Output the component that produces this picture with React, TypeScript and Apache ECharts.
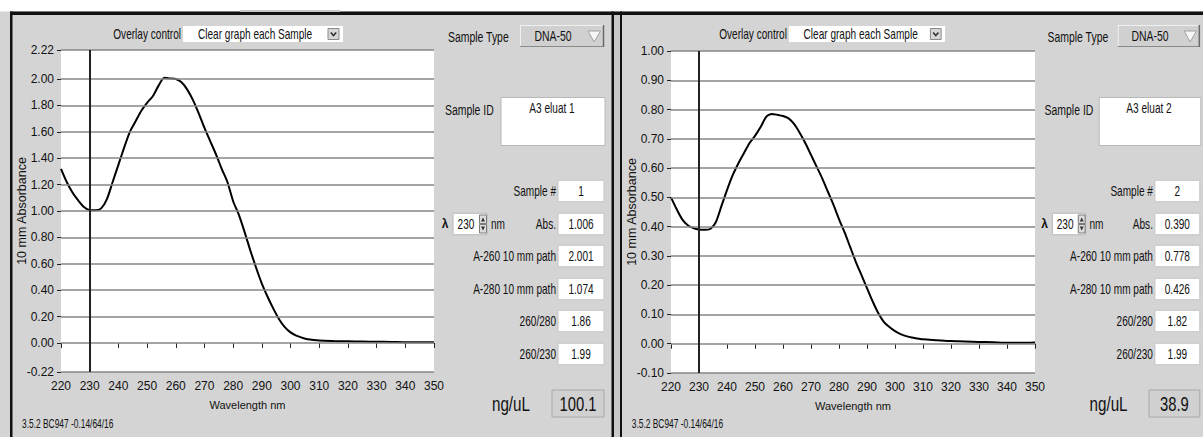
import React, { useEffect, useRef } from "react";
import * as echarts from "echarts";

// ---------- data ----------
const wavelengths1 = [220, 222, 224, 226, 228, 230, 232, 234, 236, 238, 240, 242, 244, 246, 248, 250, 252, 254, 256, 258, 260, 262, 264, 266, 268, 270, 272, 274, 276, 278, 280, 282, 284, 286, 288, 290, 292, 294, 296, 298, 300, 302, 304, 306, 308, 310, 315, 320, 325, 330, 335, 340, 345, 350];
const absorbance1 = [1.32, 1.22, 1.14, 1.08, 1.03, 1.006, 1.005, 1.02, 1.09, 1.22, 1.35, 1.48, 1.6, 1.68, 1.76, 1.82, 1.87, 1.95, 2.01, 2.005, 2.0, 1.975, 1.92, 1.84, 1.74, 1.63, 1.53, 1.43, 1.32, 1.22, 1.074, 0.97, 0.84, 0.7, 0.57, 0.45, 0.35, 0.26, 0.18, 0.12, 0.08, 0.055, 0.04, 0.028, 0.022, 0.018, 0.015, 0.013, 0.011, 0.009, 0.008, 0.006, 0.006, 0.006];
const wavelengths2 = [220, 222, 224, 226, 228, 230, 232, 234, 236, 238, 240, 242, 244, 246, 248, 250, 252, 254, 256, 258, 260, 262, 264, 266, 268, 270, 272, 274, 276, 278, 280, 282, 284, 286, 288, 290, 292, 294, 296, 298, 300, 302, 304, 306, 308, 310, 315, 320, 325, 330, 335, 340, 345, 350];
const absorbance2 = [0.5, 0.46, 0.425, 0.405, 0.395, 0.39, 0.389, 0.392, 0.415, 0.47, 0.525, 0.575, 0.615, 0.65, 0.685, 0.71, 0.74, 0.775, 0.785, 0.782, 0.778, 0.77, 0.75, 0.72, 0.685, 0.645, 0.605, 0.565, 0.52, 0.475, 0.426, 0.38, 0.33, 0.28, 0.235, 0.19, 0.145, 0.105, 0.075, 0.057, 0.043, 0.033, 0.026, 0.021, 0.018, 0.015, 0.012, 0.009, 0.008, 0.006, 0.005, 0.003, 0.003, 0.004];

const yTicks1 = [-0.22, 0, 0.2, 0.4, 0.6, 0.8, 1.0, 1.2, 1.4, 1.6, 1.8, 2.0, 2.22];
const yTicks2 = [-0.1, 0, 0.1, 0.2, 0.3, 0.4, 0.5, 0.6, 0.7, 0.8, 0.9, 1.0];
const cursorWavelength = 230;

const sampleIds = ["A3 eluat 1", "A3 eluat 2"];
const sampleNums = ["1", "2"];
const absAtLambda = ["1.006", "0.390"];
const a260 = ["2.001", "0.778"];
const a280 = ["1.074", "0.426"];
const ratio260280 = ["1.86", "1.82"];
const ratio260230 = ["1.99", "1.99"];
const concentration = ["100.1", "38.9"];
const rowLabels = ["Sample #", "Abs.", "A-260 10 mm path", "A-280 10 mm path", "260/280", "260/230"];

const REG = "'Liberation Sans', Arial, sans-serif";
const PANEL = "#d4d4d4";
const NSCALE = 0.72;

function txt(x: number, y: number, text: string, size: number, opts: any = {}) {
  const align = opts.align || "left";
  return {
    type: "text",
    x,
    y,
    scaleX: opts.scaleX !== undefined ? opts.scaleX : NSCALE,
    silent: true,
    z: 10,
    style: {
      text,
      fill: opts.color || "#111",
      font: `${opts.bold ? "bold " : ""}${size}px ${REG}`,
      align,
      verticalAlign: "middle",
      textAlign: align,
      textVerticalAlign: "middle",
    },
  };
}
function rect(x: number, y: number, w: number, h: number, fill: string, stroke?: string, lw = 1) {
  return {
    type: "rect",
    silent: true,
    z: 5,
    shape: { x, y, width: w, height: h },
    style: { fill, stroke: stroke || "none", lineWidth: lw },
  };
}
function line(x1: number, y1: number, x2: number, y2: number, stroke: string, lw = 1) {
  return {
    type: "line",
    silent: true,
    z: 6,
    shape: { x1, y1, x2, y2 },
    style: { stroke, lineWidth: lw },
  };
}

function panelGraphics(ox: number, sx: number, i: number) {
  const X = (x: number) => ox + (x - 12) * sx;
  const els: any[] = [];
  // overlay control
  els.push(txt(X(181), 34, "Overlay control", 14, { align: "right" }));
  els.push(rect(X(183), 26, 160 * sx, 16, "#ffffff"));
  els.push(txt(X(198), 34, "Clear graph each Sample", 14));
  els.push(rect(X(328), 28.5, 11 * sx, 11, "#d6d6d6", "#8a8a8a"));
  els.push({
    type: "polyline",
    silent: true,
    z: 7,
    shape: { points: [[X(330.8), 32.5], [X(333.5), 35.5], [X(336.2), 32.5]] },
    style: { stroke: "#333", lineWidth: 1.6, fill: "none" },
  });
  // sample type
  els.push(txt(X(448), 37, "Sample Type", 14.5));
  els.push(rect(X(520), 25, 84 * sx, 22, "#d0d0d0"));
  els.push(line(X(520), 25.5, X(604), 25.5, "#f0f0f0"));
  els.push(line(X(520.5), 25, X(520.5), 47, "#f0f0f0"));
  els.push(line(X(520), 46.5, X(604), 46.5, "#8a8a8a"));
  els.push(line(X(603.5), 25, X(603.5), 47, "#6a6a6a", 1.5));
  els.push(txt(X(553), 36, "DNA-50", 14.5, { align: "center" }));
  els.push({
    type: "polygon",
    silent: true,
    z: 7,
    shape: { points: [[X(588), 31], [X(600.5), 31], [X(594.2), 42]] },
    style: { fill: "#f7f7f7", stroke: "#a0a0a0", lineWidth: 1 },
  });
  // sample id
  els.push(txt(X(445), 110, "Sample ID", 14.5));
  els.push(rect(X(501), 97.5, 104 * sx, 48, "#ffffff", "#b8b8b8"));
  els.push(txt(X(552), 108, sampleIds[i], 14, { align: "center" }));
  // rows
  const rowY = [191, 224, 256, 289, 321, 354];
  const vals = [sampleNums[i], absAtLambda[i], a260[i], a280[i], ratio260280[i], ratio260230[i]];
  rowY.forEach((y, k) => {
    els.push(txt(X(556), y, rowLabels[k], 14, { align: "right" }));
    els.push(rect(X(558), y - 10.75, 46 * sx, 21.5, "#ffffff", "#c4c4c4"));
    els.push(txt(X(581), y, vals[k], 14, { align: "center" }));
  });
  // lambda spinner
  els.push(txt(X(445), 224, "λ", 12, { align: "center", bold: true, scaleX: 1 }));
  els.push(rect(X(453), 213.25, 34 * sx, 21.5, "#ffffff", "#b8b8b8"));
  els.push(txt(X(466), 224, String(cursorWavelength), 14, { align: "center" }));
  els.push(rect(X(479.5), 215, 7 * sx, 8.5, "#dcdcdc", "#7a7a7a"));
  els.push(rect(X(479.5), 224.5, 7 * sx, 8.5, "#dcdcdc", "#7a7a7a"));
  els.push({
    type: "polygon", silent: true, z: 7,
    shape: { points: [[X(481), 221.5], [X(485), 221.5], [X(483), 217.5]] },
    style: { fill: "#333" },
  });
  els.push({
    type: "polygon", silent: true, z: 7,
    shape: { points: [[X(481), 226.5], [X(485), 226.5], [X(483), 230.5]] },
    style: { fill: "#333" },
  });
  els.push(txt(X(491), 224, "nm", 14));
  // concentration
  els.push(txt(X(530), 404, "ng/uL", 19.5, { align: "right", scaleX: 0.78 }));
  els.push(rect(X(552), 390, 52 * sx, 27, "#d0d0d0", "#a8a8a8"));
  els.push(txt(X(578), 404, concentration[i], 19.5, { align: "center", scaleX: 0.76 }));
  // footer
  els.push(txt(X(22), 424, "3.5.2 BC947 -0.14/64/16", 12, { scaleX: 0.7 }));
  return els;
}

function axesFor(gridIndex: number, yTicks: number[], yMin: number, yMax: number) {
  const xAxis = {
    type: "value",
    gridIndex,
    min: 220,
    max: 350,
    interval: 10,
    name: "Wavelength nm",
    nameLocation: "middle",
    nameGap: 27,
    nameMoveOverlap: false,
    nameTextStyle: { fontFamily: REG, fontSize: 11, color: "#111" },
    axisLine: { show: false },
    axisTick: { show: true, length: 5, lineStyle: { color: "#222", width: 1 } },
    axisLabel: { fontFamily: REG, fontSize: 12, color: "#111", margin: 8 },
    splitLine: { show: false },
  };
  const yAxis = {
    type: "value",
    gridIndex,
    min: yMin,
    max: yMax,
    name: "10 mm Absorbance",
    nameLocation: "middle",
    nameGap: 33,
    nameMoveOverlap: false,
    nameTextStyle: { fontFamily: REG, fontSize: 12.5, color: "#111" },
    axisLine: { show: false },
    axisTick: { show: true, length: 4, customValues: yTicks, lineStyle: { color: "#222", width: 1 } },
    axisLabel: {
      customValues: yTicks,
      fontFamily: REG,
      fontSize: 12,
      color: "#111",
      margin: 7,
      formatter: (v: number) => v.toFixed(2),
    },
    splitLine: { show: false },
  };
  return { xAxis, yAxis };
}

function curveSeries(idx: number, xs: number[], ys: number[], yTicks: number[]) {
  return {
    type: "line",
    xAxisIndex: idx,
    yAxisIndex: idx,
    data: xs.map((w, k) => [w, ys[k]]),
    showSymbol: false,
    symbol: "none",
    smooth: 0.25,
    lineStyle: { color: "#000", width: 2 },
    z: 3,
    markLine: {
      silent: true,
      symbol: ["none", "none"],
      label: { show: false },
      animation: false,
      lineStyle: { color: "#868686", width: 1.5, type: "solid" },
      data: [
        ...yTicks.map((v) => ({ yAxis: v })),
        { xAxis: cursorWavelength, lineStyle: { color: "#222", width: 2, type: "solid" } },
      ],
    },
  };
}

export default function App() {
  const ref = useRef<HTMLDivElement>(null);
  useEffect(() => {
    if (!ref.current) return;
    const chart = echarts.init(ref.current, null, { renderer: "svg" });
    const a1 = axesFor(0, yTicks1, -0.22, 2.22);
    const a2 = axesFor(1, yTicks2, -0.1, 1.0);
    const frame: any[] = [
      rect(0, 0, 1203, 11.5, "#ffffff"),
      rect(10, 11.5, 1193, 3.5, "#111111"),
      rect(240, 10, 100, 2, "#c8c8c8"),
      rect(10, 11.5, 2.5, 426, "#111111"),
      rect(611.5, 11.5, 2.5, 426, "#111111"),
      rect(614, 15, 6, 422, "#c9c9c9"),
      rect(620, 11.5, 2, 426, "#111111"),
    ];
    chart.setOption({
      animation: false,
      backgroundColor: PANEL,
      grid: [
        { left: 61, top: 50, width: 373, height: 322, show: true, backgroundColor: "#ffffff", borderWidth: 0 },
        { left: 671, top: 51, width: 364, height: 322, show: true, backgroundColor: "#ffffff", borderWidth: 0 },
      ],
      xAxis: [a1.xAxis, a2.xAxis],
      yAxis: [a1.yAxis, a2.yAxis],
      series: [
        curveSeries(0, wavelengths1, absorbance1, yTicks1),
        curveSeries(1, wavelengths2, absorbance2, yTicks2),
      ],
      graphic: [...frame, ...panelGraphics(12, 1, 0), ...panelGraphics(622, 0.976, 1)],
    });
    return () => chart.dispose();
  }, []);
  return (
    <div
      ref={ref}
      style={{ position: "fixed", left: 0, top: 0, width: 1203, height: 437 }}
    />
  );
}
